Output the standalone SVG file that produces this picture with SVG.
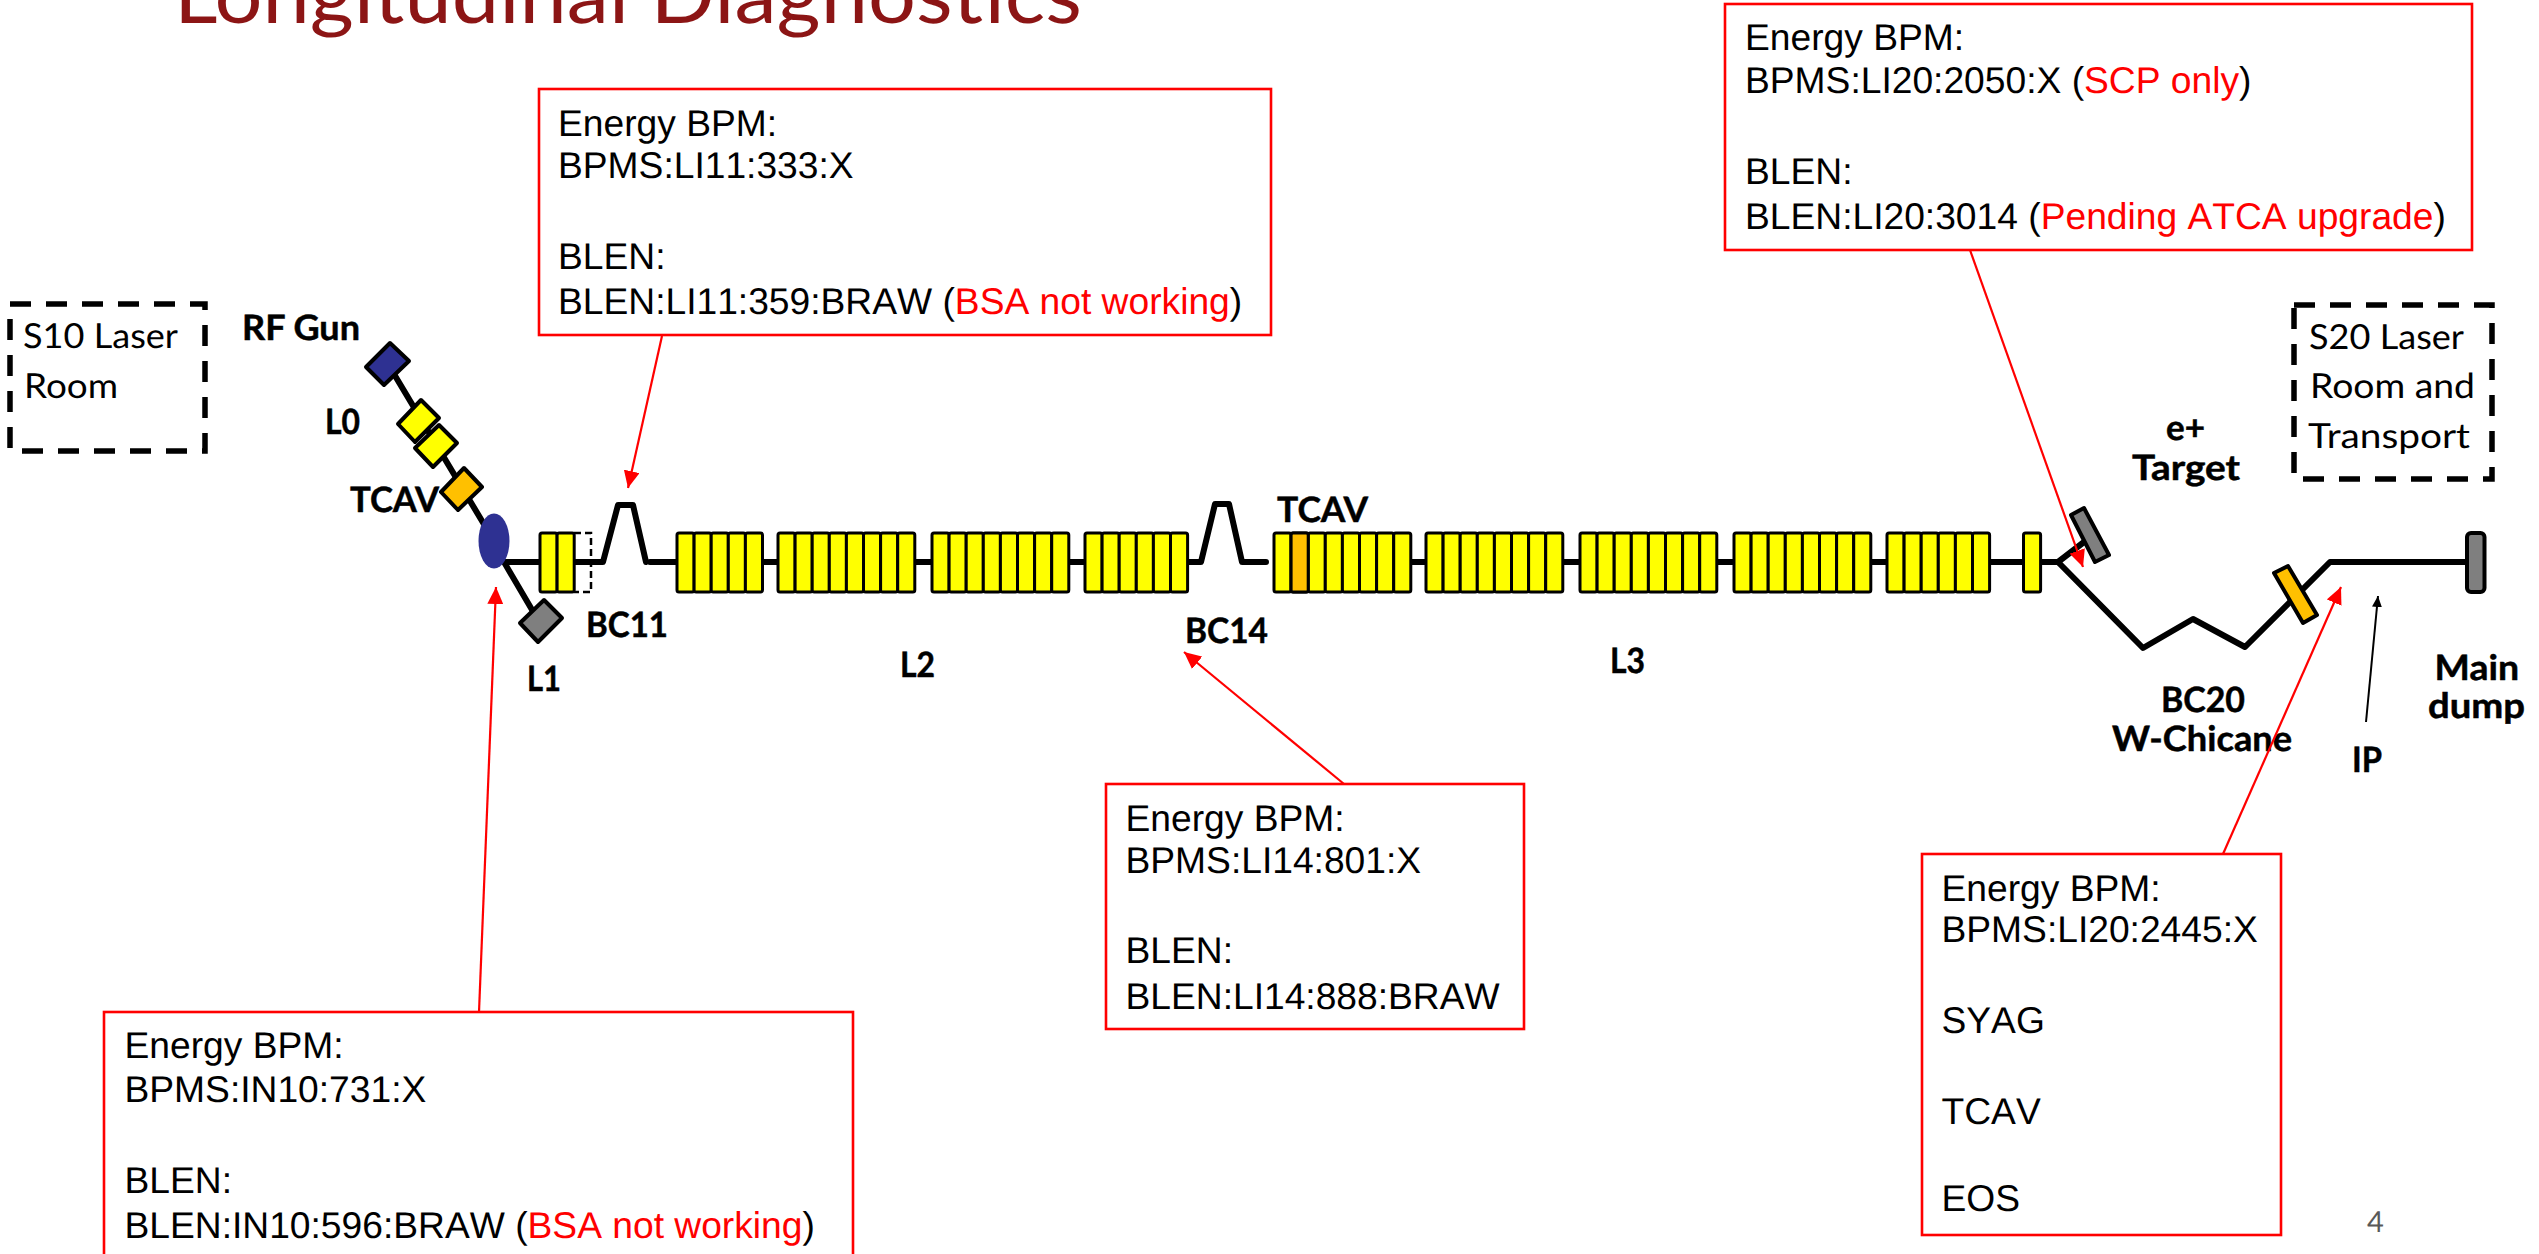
<svg xmlns="http://www.w3.org/2000/svg" width="2539" height="1254" viewBox="0 0 2539 1254">
<style>
text{text-rendering:geometricPrecision}
.title{font-family:"Lato","Liberation Sans",sans-serif;font-size:80px;fill:#8c1515}
.lb{font-family:"Lato","Liberation Sans",sans-serif;font-weight:700;font-size:35px;fill:#000;stroke:#000;stroke-width:.5}
.lr{font-family:"Lato","Liberation Sans",sans-serif;font-size:34.5px;fill:#000}
.t{font-family:"Liberation Sans",Arial,sans-serif;font-size:37.2px;fill:#000;font-kerning:none}
.w{fill:#f00}
.box{fill:#fff;stroke:#f00;stroke-width:2.6}
.beam{fill:none;stroke:#000;stroke-width:6;stroke-linejoin:round;stroke-linecap:round}
.ar{fill:none;stroke:#f00;stroke-width:2.2;marker-end:url(#ra)}
.ark{fill:none;stroke:#000;stroke-width:2;marker-end:url(#ka)}
.dash{fill:none;stroke:#000;stroke-width:5.5;stroke-dasharray:21 15}
.el{stroke:#000;stroke-width:4;stroke-linejoin:round}
.cell{stroke:#000;stroke-width:3;stroke-linejoin:round}
.y{fill:#ff0}.o{fill:#ffc000}.g{fill:#7f7f7f}.n{fill:#2e3192}
</style>
<defs>
<marker id="ra" markerUnits="userSpaceOnUse" markerWidth="18" markerHeight="16" refX="17" refY="8" orient="auto"><path d="M0 0L17 8L0 16z" fill="#f00"/></marker>
<marker id="ka" markerUnits="userSpaceOnUse" markerWidth="12" markerHeight="10" refX="11" refY="5" orient="auto"><path d="M0 0L11 5L0 10z" fill="#000"/></marker>
<rect id="c" class="cell y" width="17.1" height="59" rx="2"/>
<g id="c5"><use href="#c"/><use href="#c" x="17.1"/><use href="#c" x="34.2"/><use href="#c" x="51.3"/><use href="#c" x="68.4"/></g>
<g id="c6"><use href="#c5"/><use href="#c" x="85.5"/></g>
<g id="c8"><use href="#c6"/><use href="#c" x="102.6"/><use href="#c" x="119.7"/></g>
</defs>
<rect width="2539" height="1254" fill="#fff"/>
<text class="title" x="174" y="23" textLength="908" lengthAdjust="spacingAndGlyphs">Longitudinal Diagnostics</text>

<g id="connectors">
<path class="beam" d="M388 364L494 541"/>
<path class="beam" d="M504 562L538 620"/>
<path class="beam" d="M505 562H603L618 505H633L646 562"/>
<path class="beam" d="M650 562H1201L1215 504H1229L1242 562H1266"/>
<path class="beam" d="M1409 562H2058L2143 648L2193 619L2245 647L2330 562H2468"/>
<path class="beam" d="M2058 562L2084 542"/>
</g>

<g id="s10-laser-room">
<path class="dash" d="M10 304H205V451H10z"/>
<text class="lr" x="23" y="348" textLength="155" lengthAdjust="spacingAndGlyphs">S10 Laser</text>
<text class="lr" x="24" y="398" textLength="94" lengthAdjust="spacingAndGlyphs">Room</text>
</g>
<g id="rf-gun">
<polygon class="el n" points="390,343 409,361 384,385 366,367"/>
<text class="lb" x="242" y="340" textLength="118" lengthAdjust="spacingAndGlyphs">RF Gun</text>
</g>
<g id="l0">
<polygon class="el y" points="421,400 439,418 415,442 398,424"/>
<polygon class="el y" points="439,425 457,443 433,467 415,448"/>
<text class="lb" x="325" y="434" textLength="35" lengthAdjust="spacingAndGlyphs">L0</text>
</g>
<g id="tcav-injector">
<polygon class="el o" points="464,468 482,487 458,510 441,492"/>
<text class="lb" x="350" y="512" textLength="89" lengthAdjust="spacingAndGlyphs">TCAV</text>
</g>
<g id="bend-injector"><ellipse class="n" cx="494" cy="541" rx="15.5" ry="27.5"/></g>
<g id="l1-dump">
<polygon class="g el" points="544,600 562,618 538,642 520,623"/>
<text class="lb" x="527" y="691" textLength="34" lengthAdjust="spacingAndGlyphs">L1</text>
</g>
<g id="l1">
<use href="#c" x="540" y="533"/><use href="#c" x="557.1" y="533"/>
<path d="M574 533H591V592H574" fill="none" stroke="#000" stroke-width="2.5" stroke-dasharray="7 4"/>
</g>
<g id="bc11"><text class="lb" x="586" y="637" textLength="82" lengthAdjust="spacingAndGlyphs">BC11</text></g>
<g id="l2">
<use href="#c5" x="677" y="533"/><use href="#c8" x="778" y="533"/><use href="#c8" x="932" y="533"/><use href="#c6" x="1085" y="533"/>
<text class="lb" x="900" y="677" textLength="35" lengthAdjust="spacingAndGlyphs">L2</text>
</g>
<g id="bc14"><text class="lb" x="1185" y="643" textLength="83" lengthAdjust="spacingAndGlyphs">BC14</text></g>
<g id="tcav-l3">
<use href="#c8" x="1274" y="533"/><rect class="cell o" x="1291.1" y="533" width="17.1" height="59" rx="2"/>
<text class="lb" x="1277" y="522" textLength="91" lengthAdjust="spacingAndGlyphs">TCAV</text>
</g>
<g id="l3">
<use href="#c8" x="1426" y="533"/><use href="#c8" x="1580" y="533"/><use href="#c8" x="1734" y="533"/><use href="#c6" x="1887" y="533"/><use href="#c" x="2023.5" y="533"/>
<text class="lb" x="1610" y="673" textLength="35" lengthAdjust="spacingAndGlyphs">L3</text>
</g>
<g id="e-target">
<polygon class="el g" points="2071,515 2084,508 2109,555 2095,562"/>
<text class="lb" x="2166" y="440" textLength="39" lengthAdjust="spacingAndGlyphs">e+</text>
<text class="lb" x="2132" y="480" textLength="108" lengthAdjust="spacingAndGlyphs">Target</text>
</g>
<g id="bc20">
<polygon class="el o" points="2274,573 2288,566 2317,615 2303,623"/>
<text class="lb" x="2161" y="712" textLength="84" lengthAdjust="spacingAndGlyphs">BC20</text>
<text class="lb" x="2112" y="751" textLength="180" lengthAdjust="spacingAndGlyphs">W-Chicane</text>
</g>
<g id="main-dump">
<rect class="el g" x="2467" y="533" width="17.5" height="59" rx="4"/>
<text class="lb" x="2434.5" y="680" textLength="84.5" lengthAdjust="spacingAndGlyphs">Main</text>
<text class="lb" x="2428" y="718" textLength="97" lengthAdjust="spacingAndGlyphs">dump</text>
</g>
<g id="ip"><text class="lb" x="2352" y="772" textLength="30" lengthAdjust="spacingAndGlyphs">IP</text></g>
<g id="s20-laser-room">
<path class="dash" d="M2294 305H2492V479H2294z"/>
<text class="lr" x="2309" y="349" textLength="155" lengthAdjust="spacingAndGlyphs">S20 Laser</text>
<text class="lr" x="2310" y="398" textLength="165" lengthAdjust="spacingAndGlyphs">Room and</text>
<text class="lr" x="2308" y="448" textLength="162" lengthAdjust="spacingAndGlyphs">Transport</text>
</g>

<g id="box-bc11">
<rect class="box" x="539" y="89" width="732" height="246"/>
<text class="t" x="558" y="136">Energy BPM:</text>
<text class="t" x="558" y="178">BPMS:LI11:333:X</text>
<text class="t" x="558" y="269">BLEN:</text>
<text class="t" x="558" y="314">BLEN:LI11:359:BRAW (<tspan class="w">BSA not working</tspan>)</text>
</g>
<g id="box-li20">
<rect class="box" x="1725" y="4" width="747" height="246"/>
<text class="t" x="1745" y="50">Energy BPM:</text>
<text class="t" x="1745" y="93">BPMS:LI20:2050:X (<tspan class="w">SCP only</tspan>)</text>
<text class="t" x="1745" y="184">BLEN:</text>
<text class="t" x="1745" y="229">BLEN:LI20:3014 (<tspan class="w">Pending ATCA upgrade</tspan>)</text>
</g>
<g id="box-bc14">
<rect class="box" x="1106" y="784" width="418" height="245"/>
<text class="t" x="1125.5" y="831">Energy BPM:</text>
<text class="t" x="1125.5" y="873">BPMS:LI14:801:X</text>
<text class="t" x="1125.5" y="963">BLEN:</text>
<text class="t" x="1125.5" y="1009">BLEN:LI14:888:BRAW</text>
</g>
<g id="box-in10">
<rect class="box" x="104" y="1012" width="749" height="260"/>
<text class="t" x="124.5" y="1058">Energy BPM:</text>
<text class="t" x="124.5" y="1102">BPMS:IN10:731:X</text>
<text class="t" x="124.5" y="1193">BLEN:</text>
<text class="t" x="124.5" y="1238">BLEN:IN10:596:BRAW (<tspan class="w">BSA not working</tspan>)</text>
</g>
<g id="box-li20-2445">
<rect class="box" x="1922" y="854" width="359" height="381"/>
<text class="t" x="1941.5" y="901">Energy BPM:</text>
<text class="t" x="1941.5" y="942">BPMS:LI20:2445:X</text>
<text class="t" x="1941.5" y="1033">SYAG</text>
<text class="t" x="1941.5" y="1124">TCAV</text>
<text class="t" x="1941.5" y="1211">EOS</text>
</g>

<g id="callout-connectors">
<path class="ar" d="M479 1012L496 587"/>
<path class="ar" d="M662 336L628 488"/>
<path class="ar" d="M1344 784L1184 652"/>
<path class="ar" d="M1970 250L2083 567"/>
<path class="ar" d="M2223 854L2341 587"/>
<path class="ark" d="M2366 722L2378 596"/>
</g>
<text x="2367" y="1232" font-family="Lato,'Open Sans',sans-serif" font-size="29" fill="#595959">4</text>
</svg>
